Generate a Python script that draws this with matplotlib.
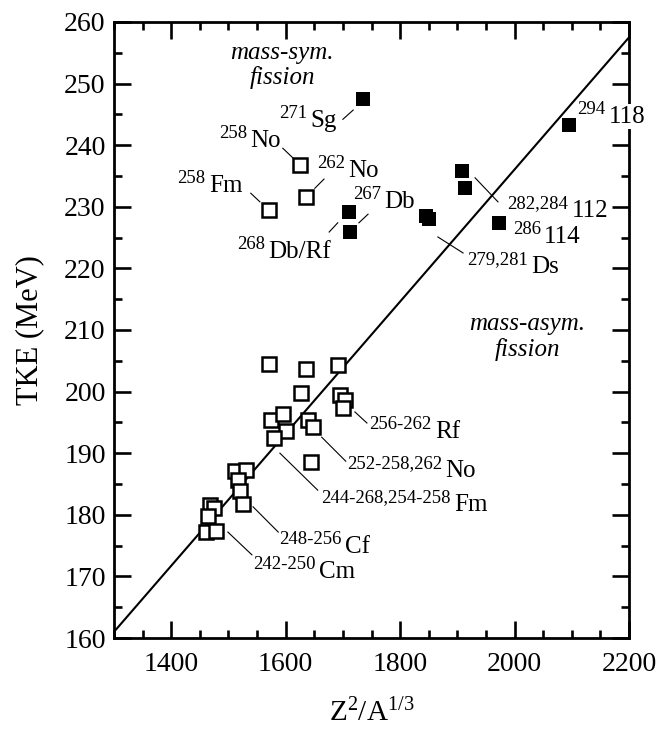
import matplotlib
matplotlib.use("Agg")
import matplotlib.pyplot as plt
from matplotlib.ticker import MultipleLocator

plt.rcParams['font.family'] = ['Liberation Serif', 'DejaVu Serif']
plt.rcParams['mathtext.fontset'] = 'custom'
plt.rcParams['mathtext.rm'] = 'Liberation Serif'
plt.rcParams['mathtext.it'] = 'Liberation Serif:italic'

# open squares: TKE of spontaneous fission for known actinides
open_x = [1571, 1625, 1636,
          1571, 1636, 1691, 1627, 1695, 1704, 1700, 1574, 1595, 1600, 1580,
          1639, 1648, 1644, 1511, 1531, 1517, 1520, 1525,
          1468, 1474, 1465, 1461, 1478]
open_y = [229.5, 236.8, 231.6,
          204.5, 203.7, 204.3, 199.8, 199.4, 198.6, 197.3, 195.4, 196.4, 193.6, 192.5,
          195.4, 194.3, 188.6, 187.1, 187.3, 185.6, 183.9, 181.8,
          181.6, 181.1, 179.8, 177.2, 177.3]

# filled squares: superheavy nuclei
fill_x = [1735, 1711, 1712, 1845, 1851, 1908, 1913, 1973, 2095]
fill_y = [247.5, 229.2, 225.9, 228.5, 228.0, 235.8, 233.1, 227.4, 243.3]

# systematics line
line_x = [1300, 2200]
line_y = [161.0, 257.5]

# labels: (superscript, element, x, y)
labels = [
    ("271", "Sg", 1588, 243.0),
    ("258", "No", 1483, 239.7),
    ("262", "No", 1655, 234.8),
    ("258", "Fm", 1411, 232.4),
    ("268", "Db/Rf", 1515, 221.7),
    ("267", "Db", 1718, 229.8),
    ("279,281", "Ds", 1917, 219.3),
    ("282,284", "112", 1987, 228.3),
    ("286", "114", 1997, 224.1),
    ("294", "118", 2109, 243.6),
    ("256-262", "Rf", 1746, 192.5),
    ("252-258,262", "No", 1707, 186.1),
    ("244-268,254-258", "Fm", 1662, 180.6),
    ("248-256", "Cf", 1588, 173.8),
    ("242-250", "Cm", 1543, 169.7),
]

# leader lines
leaders = [
    ((1700, 1718), (244.2, 245.7)),
    ((1595, 1613), (239.5, 237.9)),
    ((1651, 1667), (233.0, 234.5)),
    ((1539, 1555), (232.2, 230.8)),
    ((1676, 1691), (225.9, 227.4)),
    ((1728, 1744), (227.4, 228.8)),
    ((1866, 1910), (225.1, 222.5)),
    ((1931, 1971), (234.7, 230.8)),
    ((1721, 1742), (196.7, 194.9)),
    ((1663, 1705), (192.6, 188.7)),
    ((1590, 1656), (190.0, 184.0)),
    ((1543, 1587), (181.3, 177.2)),
    ((1499, 1541), (177.2, 173.5)),
]

fig = plt.figure(figsize=(6.65, 7.32), dpi=100)
ax = fig.add_axes([0.1714, 0.1284, 0.7745, 0.8416])

ax.plot(line_x, line_y, color='black', lw=1.5, zorder=1)
ax.plot(open_x, open_y, 's', ms=9.5, mfc='white', mec='black', mew=1.8, ls='none', zorder=3)
ax.plot(fill_x, fill_y, 's', ms=10.5, mfc='black', mec='black', mew=0, ls='none', zorder=3)

for (lx, ly) in leaders:
    ax.plot(lx, ly, color='black', lw=0.8, zorder=2)

for sup, el, x, y in labels:
    t1 = ax.annotate(sup, xy=(x, y), xytext=(0, 6.5), textcoords='offset points',
                     fontsize=13.5, ha='left', va='baseline', zorder=4,
                     annotation_clip=False)
    t2 = ax.annotate(el, xy=(1, y), xycoords=(t1, 'data'), xytext=(2.5, 0),
                     textcoords='offset points', fontsize=18, ha='left',
                     va='baseline', zorder=4, annotation_clip=False)
    if el == "118":
        # label sits over the right frame, hide the spine behind it
        t2.set_bbox(dict(facecolor='white', edgecolor='none', pad=1))
        t2.set_zorder(5)

ax.text(1594, 254.0, 'mass-sym.', fontsize=18, style='italic', ha='center', va='baseline')
ax.text(1594, 250.0, 'fission', fontsize=18, style='italic', ha='center', va='baseline')
ax.text(2022, 210.0, 'mass-asym.', fontsize=18, style='italic', ha='center', va='baseline')
ax.text(2022, 205.7, 'fission', fontsize=18, style='italic', ha='center', va='baseline')

ax.set_xlim(1300, 2200)
ax.set_ylim(160, 260)
ax.xaxis.set_major_locator(MultipleLocator(200))
ax.xaxis.set_minor_locator(MultipleLocator(50))
ax.yaxis.set_major_locator(MultipleLocator(10))
ax.yaxis.set_minor_locator(MultipleLocator(5))
ax.tick_params(which='both', direction='in', top=True, right=True, width=1.9, labelsize=20)
ax.tick_params(which='major', length=12)
ax.tick_params(which='minor', length=6)
ax.tick_params(axis='x', pad=10)
ax.tick_params(axis='y', pad=6)
for s in ax.spines.values():
    s.set_linewidth(2.0)

ax.set_xlabel(r'Z$^2$/A$^{1/3}$', fontsize=21, labelpad=16)
ax.set_ylabel('TKE (MeV)', fontsize=22, labelpad=14)

fig.savefig('out.png', dpi=100)
